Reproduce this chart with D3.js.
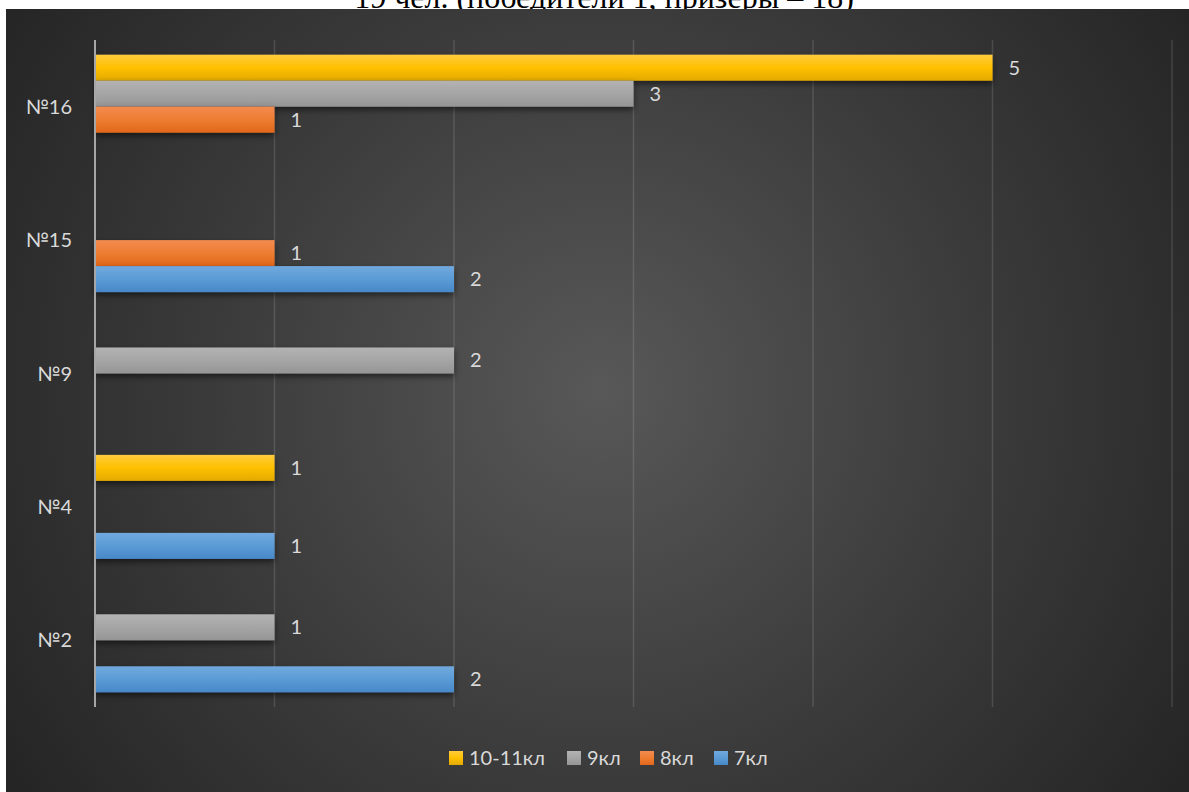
<!DOCTYPE html>
<html><head><meta charset="utf-8">
<script src="https://cdn.jsdelivr.net/npm/d3@7"></script>
<style>html,body{margin:0;padding:0;background:#fff;overflow:hidden}</style>
</head><body>
<svg id="chart" width="1189" height="792"></svg>
<script>
const titleText = "19 чел. (победители 1, призеры – 18)";
const categories = ["№16", "№15", "№9", "№4", "№2"];
const seriesNames = ["10-11кл", "9кл", "8кл", "7кл"];
const values1011 = [5, null, null, 1, null];
const values9 = [3, null, 2, null, 1];
const values8 = [1, 1, null, null, null];
const values7 = [null, 2, null, 1, 2];
const xTicks = [0, 1, 2, 3, 4, 5, 6];

const seriesValues = [values1011, values9, values8, values7];
const colors = {
  "10-11кл": ["#ffcb3d", "#ffc000", "#e3aa00"],
  "9кл": ["#b3b3b3", "#a5a5a5", "#959595"],
  "8кл": ["#f38b50", "#ed7d31", "#e2671c"],
  "7кл": ["#71a9de", "#5b9bd5", "#4788c8"]
};

const svg = d3.select("#chart");
const defs = svg.append("defs");
const bg = defs.append("radialGradient").attr("id", "bg")
  .attr("gradientUnits", "userSpaceOnUse")
  .attr("cx", 600).attr("cy", 390).attr("r", 720);
bg.append("stop").attr("offset", 0).attr("stop-color", "#585858");
bg.append("stop").attr("offset", 0.55).attr("stop-color", "#3a3a3a");
bg.append("stop").attr("offset", 1).attr("stop-color", "#242424");

seriesNames.forEach((s, i) => {
  const g = defs.append("linearGradient").attr("id", "g" + i)
    .attr("x1", 0).attr("y1", 0).attr("x2", 0).attr("y2", 1);
  g.append("stop").attr("offset", 0).attr("stop-color", colors[s][0]);
  g.append("stop").attr("offset", 0.5).attr("stop-color", colors[s][1]);
  g.append("stop").attr("offset", 1).attr("stop-color", colors[s][2]);
});
const f = defs.append("filter").attr("id", "shadow")
  .attr("x", "-5%").attr("y", "-30%").attr("width", "110%").attr("height", "180%");
f.append("feDropShadow").attr("dx", 0).attr("dy", 3).attr("stdDeviation", 3)
  .attr("flood-color", "#000").attr("flood-opacity", 0.55);

// title (partly hidden behind the chart area, as in the source)
svg.append("text").attr("x", 604).attr("y", 8)
  .attr("text-anchor", "middle")
  .attr("font-family", "'Liberation Serif', 'Times New Roman', serif")
  .attr("font-size", 32).attr("fill", "#000").text(titleText);

svg.append("rect").attr("x", 6).attr("y", 9).attr("width", 1183).attr("height", 783)
  .attr("fill", "url(#bg)");

const x = d3.scaleLinear().domain([0, 6]).range([95, 1172]);
const y = d3.scaleBand().domain(categories).range([40, 707]).padding(0);
const yi = d3.scaleBand().domain(seriesNames).range([0, y.bandwidth()])
  .paddingInner(0).paddingOuter(0.565);

// gridlines
svg.append("g").selectAll("line").data(xTicks.slice(1)).join("line")
  .attr("x1", d => x(d)).attr("x2", d => x(d))
  .attr("y1", 40).attr("y2", 707)
  .attr("stroke", "#ffffff").attr("stroke-opacity", 0.13).attr("stroke-width", 1.5);

// category axis labels
const font = "Lato, 'Open Sans', sans-serif";
svg.append("g").selectAll("text").data(categories).join("text")
  .attr("x", 72).attr("y", d => y(d) + y.bandwidth() / 2)
  .attr("dy", "0.35em").attr("text-anchor", "end")
  .attr("font-family", font).attr("font-size", 20).attr("fill", "#d9d9d9")
  .text(d => d);

// bars
const barData = [];
seriesNames.forEach((s, si) => {
  categories.forEach((c, ci) => {
    const v = seriesValues[si][ci];
    if (v != null) barData.push({ s, si, c, v });
  });
});
svg.append("g").selectAll("rect").data(barData).join("rect")
  .attr("x", x(0))
  .attr("y", d => y(d.c) + yi(d.s))
  .attr("width", d => x(d.v) - x(0))
  .attr("height", yi.bandwidth())
  .attr("fill", d => `url(#g${d.si})`)
  .attr("filter", "url(#shadow)");

// axis line
svg.append("line").attr("x1", x(0)).attr("x2", x(0)).attr("y1", 40).attr("y2", 707)
  .attr("stroke", "#a6a6a6").attr("stroke-width", 2);

// value labels
svg.append("g").selectAll("text").data(barData).join("text")
  .attr("x", d => x(d.v) + 16)
  .attr("y", d => y(d.c) + yi(d.s) + yi.bandwidth() / 2)
  .attr("dy", "0.35em")
  .attr("font-family", font).attr("font-size", 20).attr("fill", "#d9d9d9")
  .text(d => d.v);

// legend
const legendX = [449, 567, 640, 714];
const lg = svg.append("g").selectAll("g").data(seriesNames).join("g")
  .attr("transform", (d, i) => `translate(${legendX[i]},758)`);
lg.append("rect").attr("x", 0).attr("y", -7).attr("width", 14).attr("height", 14)
  .attr("fill", (d, i) => `url(#g${i})`);
lg.append("text").attr("x", 20).attr("y", 0).attr("dy", "0.35em")
  .attr("font-family", font).attr("font-size", 20).attr("fill", "#d9d9d9")
  .text(d => d);
</script>
</body></html>
